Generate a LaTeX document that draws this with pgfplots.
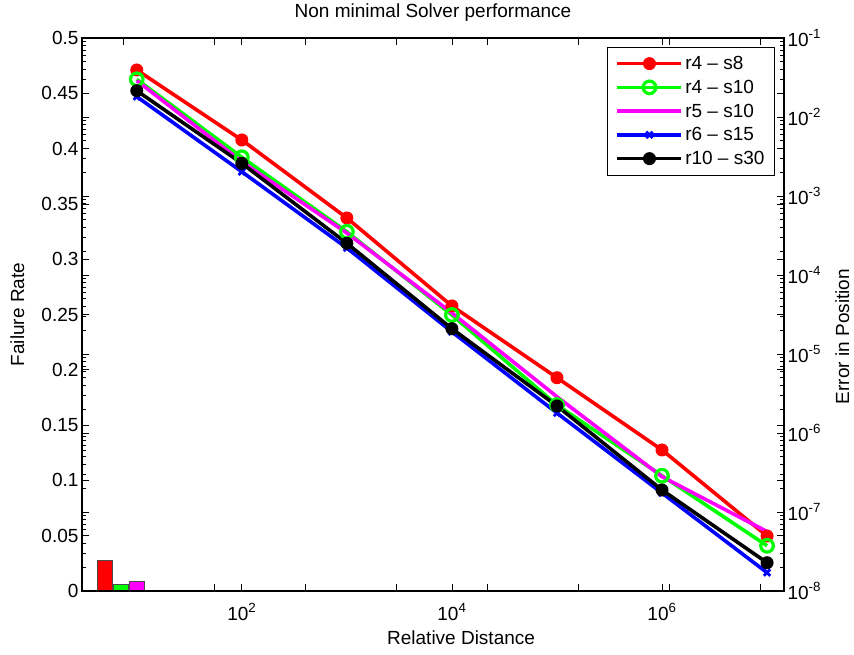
\documentclass[border=0pt]{standalone}
\usepackage{pgfplots}
\pgfplotsset{compat=1.18}
\usepackage{fontspec}
\setmainfont{Liberation Sans}
\definecolor{mred}{RGB}{255,0,0}
\definecolor{mgreen}{RGB}{0,255,0}
\definecolor{mmag}{RGB}{255,0,255}
\definecolor{mblue}{RGB}{0,0,255}
\newcommand{\fs}{\fontsize{19bp}{22bp}\selectfont}
\begin{document}
\begin{tikzpicture}
\pgfplotsset{
  myaxis/.style={
    scale only axis, width=702bp, height=553bp,
    at={(0,0)}, anchor=south west,
    axis line style={line width=1.3bp},
    major tick length=7bp, minor tick length=4bp,
    every tick/.style={black, line width=0.7bp},
    tick label style={font=\fs},
    label style={font=\fs},
    /pgf/number format/assume math mode=true,
  }
}
\path[use as bounding box] (-82bp,-64bp) rectangle (772bp,591bp);
% left axis: failure rate (bars)
\begin{axis}[myaxis,
  xmin=0.55, xmax=8.256, ymin=0, ymax=0.5,
  xtick={1,2,3,4,5,6,7,8}, xticklabels={},
  ytick={0,0.05,0.1,0.15,0.2,0.25,0.3,0.35,0.4,0.45,0.5},
  yticklabel style={/pgf/number format/fixed, /pgf/number format/precision=2},
  ylabel={Failure Rate},
  ylabel style={at={(axis description cs:-0.0826,0.5)}, anchor=base},
]
\addplot[ybar, bar width=0.165, bar shift=0, fill=mred, draw=black!70, line width=0.6bp] coordinates {(0.797,0.028)};
\addplot[ybar, bar width=0.165, bar shift=0, fill=mgreen, draw=black!70, line width=0.6bp] coordinates {(0.973,0.006)};
\addplot[ybar, bar width=0.165, bar shift=0, fill=mmag, draw=black!70, line width=0.6bp] coordinates {(1.148,0.0084)};
\end{axis}
% right axis: error in position (lines)
\begin{axis}[myaxis,
  xmode=log, ymode=log,
  xmin=3.01, xmax=1.45e7, ymin=1e-8, ymax=1e-1,
  xtick={1e2,1e4,1e6},
  xticklabels={10\textsuperscript{2},10\textsuperscript{4},10\textsuperscript{6}},
  xticklabel style={yshift=-9bp},
  xminorticks=false,
  ytick={1e-8,1e-7,1e-6,1e-5,1e-4,1e-3,1e-2,1e-1},
  yticklabels={10\textsuperscript{-8},10\textsuperscript{-7},10\textsuperscript{-6},10\textsuperscript{-5},10\textsuperscript{-4},10\textsuperscript{-3},10\textsuperscript{-2},10\textsuperscript{-1}},
  yticklabel pos=right,
  title={Non minimal Solver performance},
  title style={at={(axis description cs:0.5,1)}, anchor=base, yshift=15bp, font=\fs},
  xlabel={Relative Distance},
  xlabel style={at={(axis description cs:0.54,0)}, anchor=base, yshift=-53bp},
  ylabel={Error in Position},
  ylabel style={at={(axis description cs:1.0926,0.46)}, anchor=base},
  legend style={at={(rel axis cs:0.987,0.984)}, anchor=north east, draw=black, line width=0.8bp, font=\fs, fill=white, inner xsep=8bp, inner ysep=7bp, row sep=5bp},
  legend cell align=left,
  legend image code/.code={\draw[mark repeat=2,mark phase=2,#1] plot coordinates {(0bp,0bp) (32bp,0bp) (64bp,0bp)};},
]
\addplot[mred, line width=3.6bp, mark=*, mark size=6bp, mark options={solid, fill=mred, line width=1bp}] coordinates {
(1e1,3.94e-2) (1e2,5.12e-3) (1e3,5.27e-4) (1e4,4.06e-5) (1e5,5.01e-6) (1e6,6.10e-7) (1e7,4.97e-8)};
\addlegendentry{r4 – s8}
\addplot[mgreen, line width=3.6bp, mark=o, mark size=6.3bp, mark options={solid, line width=3.2bp}] coordinates {
(1e1,3.00e-2) (1e2,3.09e-3) (1e3,3.53e-4) (1e4,3.12e-5) (1e5,2.26e-6) (1e6,2.88e-7) (1e7,3.74e-8)};
\addlegendentry{r4 – s10}
\addplot[mmag, line width=3.6bp] coordinates {
(1e1,2.88e-2) (1e2,2.72e-3) (1e3,3.40e-4) (1e4,3.31e-5) (1e5,2.88e-6) (1e6,2.80e-7) (1e7,5.66e-8)};
\addlegendentry{r5 – s10}
\addplot[mblue, line width=3.6bp, mark=x, mark size=4.5bp, mark options={solid, line width=2.8bp}] coordinates {
(1e1,1.81e-2) (1e2,2.03e-3) (1e3,2.20e-4) (1e4,1.91e-5) (1e5,1.79e-6) (1e6,1.74e-7) (1e7,1.71e-8)};
\addlegendentry{r6 – s15}
\addplot[black, line width=3.6bp, mark=*, mark size=6bp, mark options={solid, fill=black, line width=1bp}] coordinates {
(1e1,2.15e-2) (1e2,2.59e-3) (1e3,2.52e-4) (1e4,2.09e-5) (1e5,2.20e-6) (1e6,1.90e-7) (1e7,2.28e-8)};
\addlegendentry{r10 – s30}
\end{axis}
\end{tikzpicture}
\end{document}
